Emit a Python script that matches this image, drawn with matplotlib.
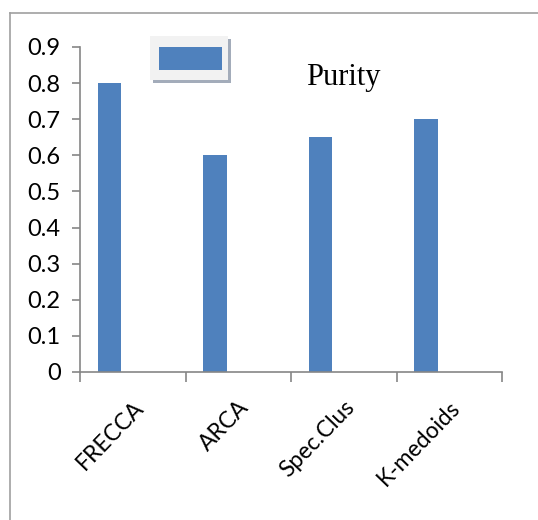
import matplotlib
matplotlib.use('Agg')
from matplotlib import pyplot as plt
from matplotlib.patches import Rectangle
from matplotlib.lines import Line2D
import numpy as np

methods = ['FRECCA', 'ARCA', 'Spec.Clus', 'K-medoids']
purity = [0.80, 0.60, 0.65, 0.70]
yticks = [0, 0.1, 0.2, 0.3, 0.4, 0.5, 0.6, 0.7, 0.8, 0.9]

blue = '#4f81bd'
axis_grey = '#868686'

plt.rcParams['font.family'] = ['Lato', 'DejaVu Sans']

fig = plt.figure(figsize=(5.38, 5.20), dpi=100)
ax = fig.add_axes([80 / 538, 1 - 372 / 520, 422 / 538, 325 / 520])

x = np.arange(len(methods))
ax.bar(x - 0.22, purity, width=0.22, color=blue, zorder=2)

ax.set_xlim(-0.5, len(methods) - 0.5)
ax.set_ylim(0, 0.9)
ax.set_yticks(yticks)
ax.set_yticklabels(['0'] + ['%.1f' % v for v in yticks[1:]], fontsize=17)

ax.set_xticks(x)
ax.set_xticklabels(methods, fontsize=16.5, rotation=46, ha='right',
                   rotation_mode='anchor')
ax.set_xticks(np.arange(len(methods) + 1) - 0.5, minor=True)
ax.tick_params(axis='x', which='major', length=0, pad=18)
ax.tick_params(axis='x', which='minor', length=7, width=1.2, color=axis_grey,
               direction='out')
ax.tick_params(axis='y', length=6, width=1.2, color=axis_grey, pad=8)

for side in ['top', 'right']:
    ax.spines[side].set_visible(False)
for side in ['left', 'bottom']:
    ax.spines[side].set_color(axis_grey)
    ax.spines[side].set_linewidth(1.2)

# outer chart frame (only left and top edges show)
fig.add_artist(Line2D([10 / 538, 10 / 538], [0, 1 - 13 / 520],
                      color='#a0a0a0', lw=1.2))
fig.add_artist(Line2D([10 / 538, 1], [1 - 13 / 520, 1 - 13 / 520],
                      color='#a0a0a0', lw=1.2))

# legend swatch with drop shadow
W, H = 538.0, 520.0
fig.add_artist(Rectangle((153 / W, 1 - 83 / H), 78 / W, 44 / H,
                         facecolor='#a3acba', edgecolor='none'))
fig.add_artist(Rectangle((150 / W, 1 - 80 / H), 78 / W, 44 / H,
                         facecolor='#f2f2f2', edgecolor='none'))
fig.add_artist(Rectangle((159 / W, 1 - 70 / H), 63 / W, 23 / H,
                         facecolor=blue, edgecolor='none'))
fig.text(306 / W, 1 - 77 / H, 'Purity', fontsize=22,
         family='Liberation Serif', va='center', ha='left')

fig.savefig('out.png', dpi=100)
